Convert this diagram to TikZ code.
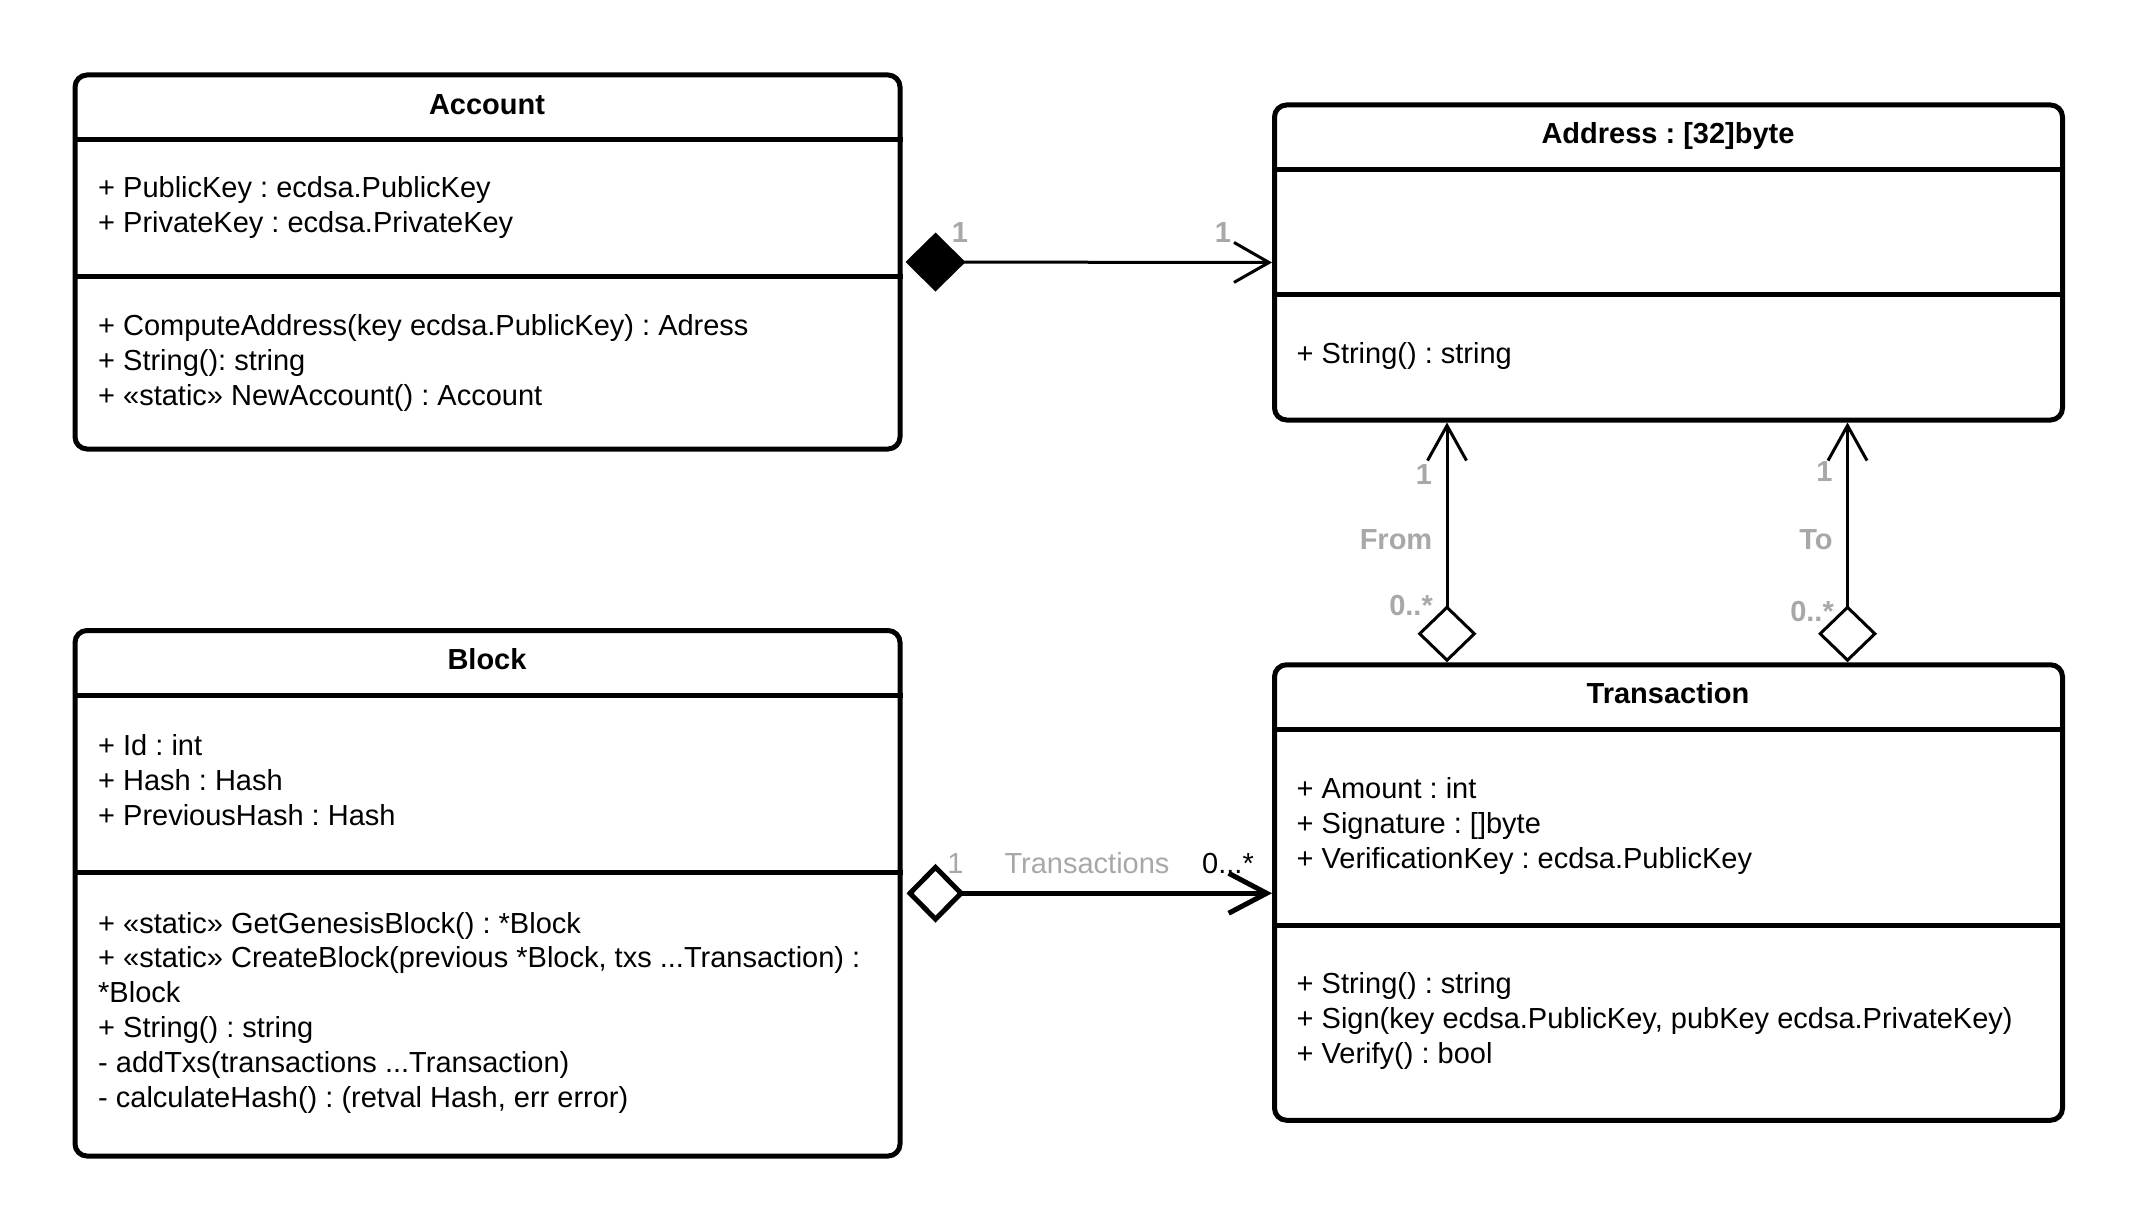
\documentclass[tikz,border=0pt]{standalone}
\usepackage{fontspec}
\setmainfont{Liberation Sans}
\usetikzlibrary{arrows.meta}
\definecolor{lblgray}{RGB}{168,168,168}
\newcommand\umlfont{\fontsize{29}{34.8}\selectfont\frenchspacing}
\tikzset{
  classbox/.style={draw=black, line width=5pt, rounded corners=12pt, inner sep=0pt, fill=none},
  sepline/.style={line width=5pt, draw=black},
  member/.style={anchor=base west, inner sep=0pt, font=\umlfont, text=black},
  ctitle/.style={anchor=base, inner sep=0pt, font=\umlfont\bfseries, text=black},
  mult/.style={anchor=base, inner sep=0pt, font=\umlfont\bfseries, text=lblgray},
  multplain/.style={anchor=base, inner sep=0pt, font=\umlfont, text=lblgray},
  thinlink/.style={line width=3pt, draw=black},
  thicklink/.style={line width=5pt, draw=black},
}
\begin{document}
\begin{tikzpicture}[x=1pt, y=-1pt]
\useasboundingbox[fill=white] (0,0) rectangle (2138,1230);

% ---------- class boxes ----------
\node[classbox, minimum width=825pt, minimum height=374pt] (account) at (487.5,262) {};
\node[classbox, minimum width=788pt, minimum height=315pt] (address) at (1668.5,262.5) {};
\node[classbox, minimum width=825pt, minimum height=525.5pt] (block) at (487.5,893.25) {};
\node[classbox, minimum width=788pt, minimum height=455.5pt] (transaction) at (1668.5,892.5) {};

% ---------- compartment separators ----------
\draw[sepline] (account.west |- 0,140) -- (account.east |- 0,140);
\draw[sepline] (account.west |- 0,277) -- (account.east |- 0,277);
\draw[sepline] (address.west |- 0,170) -- (address.east |- 0,170);
\draw[sepline] (address.west |- 0,294.5) -- (address.east |- 0,294.5);
\draw[sepline] (block.west |- 0,695.3) -- (block.east |- 0,695.3);
\draw[sepline] (block.west |- 0,872) -- (block.east |- 0,872);
\draw[sepline] (transaction.west |- 0,729.7) -- (transaction.east |- 0,729.7);
\draw[sepline] (transaction.west |- 0,925) -- (transaction.east |- 0,925);

% ---------- titles ----------
\node[ctitle] (accT) at (487,114.5) {Account};
\node[ctitle] (addrT) at (1668,144) {Address : [32]byte};
\node[ctitle] (blkT) at (487,669) {Block};
\node[ctitle] (txT) at (1668,703) {Transaction};

% ---------- members ----------
\node[member] (accA1) at (98,198) {+ PublicKey : ecdsa.PublicKey};
\node[member] (accA2) at (98,233) {+ PrivateKey : ecdsa.PrivateKey};
\node[member] (accM1) at (98,335.5) {+ ComputeAddress(key ecdsa.PublicKey) : Adress};
\node[member] (accM2) at (98,370.3) {+ String(): string};
\node[member] (accM3) at (98,405.1) {+ «static» NewAccount() : Account};

\node[member] (addrM1) at (1296.5,363) {+ String() : string};

\node[member] (blkA1) at (98,755) {+ Id : int};
\node[member] (blkA2) at (98,790) {+ Hash : Hash};
\node[member] (blkA3) at (98,825) {+ PreviousHash : Hash};
\node[member] (blkM1) at (98,933) {+ «static» GetGenesisBlock() : *Block};
\node[member] (blkM2) at (98,967.8) {+ «static» CreateBlock(previous *Block, txs ...Transaction) :};
\node[member] (blkM3) at (98,1002.6) {*Block};
\node[member] (blkM4) at (98,1037.4) {+ String() : string};
\node[member] (blkM5) at (98,1072.2) {- addTxs(transactions ...Transaction)};
\node[member] (blkM6) at (98,1107) {- calculateHash() : (retval Hash, err error)};

\node[member] (txA1) at (1296.5,798.5) {+ Amount : int};
\node[member] (txA2) at (1296.5,833.3) {+ Signature : []byte};
\node[member] (txA3) at (1296.5,868.1) {+ VerificationKey : ecdsa.PublicKey};
\node[member] (txM1) at (1296.5,993.5) {+ String() : string};
\node[member] (txM2) at (1296.5,1028.3) {+ Sign(key ecdsa.PublicKey, pubKey ecdsa.PrivateKey)};
\node[member] (txM3) at (1296.5,1063.1) {+ Verify() : bool};

% ---------- connectors ----------
\draw[thinlink, {Diamond[length=60pt,width=59pt]}-{Straight Barb[length=35pt,width=40pt,sharp]}, shorten <=3pt]
  (account.east) -- (address.west);
\draw[thicklink, {Diamond[open,length=58pt,width=59pt]}-{Straight Barb[length=38pt,width=40pt,sharp]}, shorten <=4pt]
  (block.east) -- (transaction.west |- block.east);
\draw[thinlink, {Diamond[open,length=57pt,width=59pt]}-{Straight Barb[length=35pt,width=39pt,sharp]}]
  ([xshift=-221.5pt]transaction.north) -- ([xshift=-221.5pt]address.south);
\draw[thinlink, {Diamond[open,length=57pt,width=59pt]}-{Straight Barb[length=35pt,width=39pt,sharp]}]
  ([xshift=179pt]transaction.north) -- ([xshift=179pt]address.south);

% ---------- connector labels ----------
\node[mult] (m1) at (960,243) {1};
\node[mult] (m2) at (1223,243) {1};
\node[mult] (m3) at (1424,484.5) {1};
\node[mult] (m4) at (1396,549) {From};
\node[mult] (m5) at (1411,615) {0..*};
\node[mult] (m6) at (1824.5,481) {1};
\node[mult] (m7) at (1816,549) {To};
\node[mult] (m8) at (1812,621) {0..*};
\node[multplain] (m9) at (955.5,873) {1};
\node[multplain] (m10) at (1087,873) {Transactions};
\node[anchor=base, inner sep=0pt, font=\umlfont, text=black] (m11) at (1228,873) {0...*};
\end{tikzpicture}
\end{document}
